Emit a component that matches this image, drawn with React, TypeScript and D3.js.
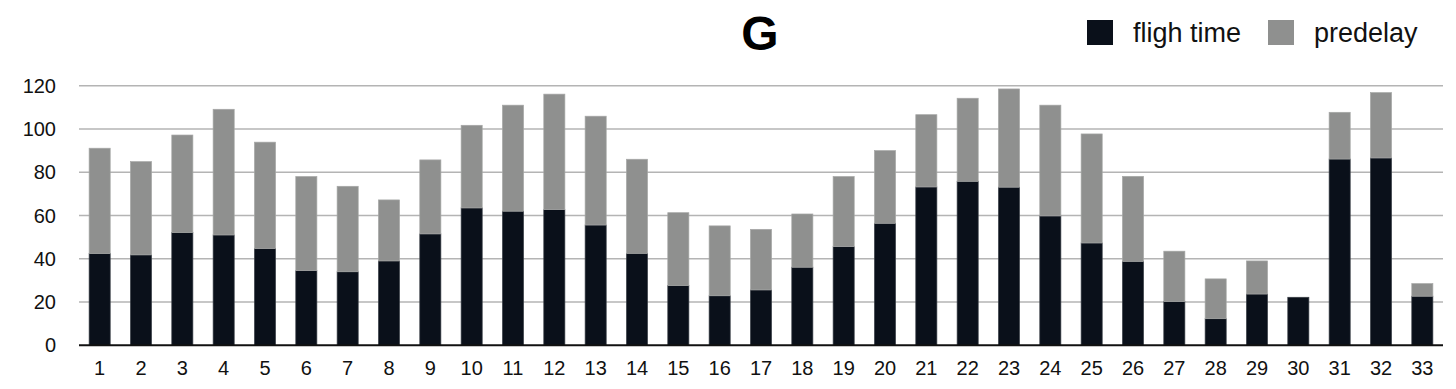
import * as d3 from "d3";

const categories = Array.from({ length: 33 }, (_, i) => String(i + 1));
const flighTime = [
  42.4, 41.8, 52.1, 51.0, 44.7, 34.5, 34.0, 39.0, 51.5, 63.5, 62.0, 62.7, 55.6,
  42.5, 27.6, 22.9, 25.6, 36.1, 45.6, 56.4, 73.2, 75.8, 73.1, 59.8, 47.3, 38.8,
  20.2, 12.3, 23.7, 22.2, 86.1, 86.6, 22.7,
];
const totals = [
  91.1, 84.9, 97.2, 109.1, 93.9, 78.0, 73.5, 67.2, 85.7, 101.7, 111.0, 116.1,
  105.9, 86.0, 61.3, 55.2, 53.6, 60.7, 78.0, 90.0, 106.6, 114.2, 118.5, 111.0,
  97.7, 78.1, 43.5, 30.7, 39.0, 22.2, 107.7, 116.8, 28.5,
];
const predelay = totals.map((t, i) => Math.max(0, +(t - flighTime[i]).toFixed(1)));
const yTicks = [0, 20, 40, 60, 80, 100, 120];
const seriesNames = ["fligh time", "predelay"];
const colors = ["#0a101a", "#8f908f"];

const W = 1456;
const H = 389;
const margin = { left: 79, right: 13, top: 85.7, bottom: 43.7 };

export default function App() {
  const x = d3
    .scaleBand()
    .domain(categories)
    .range([margin.left, W - margin.right])
    .paddingInner(0.49)
    .paddingOuter(0.245);
  const y = d3
    .scaleLinear()
    .domain([0, 120])
    .range([H - margin.bottom, margin.top]);

  const rows = categories.map((c, i) => ({
    cat: c,
    "fligh time": flighTime[i],
    predelay: predelay[i],
  }));
  const stacked = d3.stack<any>().keys(seriesNames)(rows);

  return (
    <svg
      width={W}
      height={H}
      style={{ position: "absolute", left: 0, top: 0, fontFamily: "'Liberation Sans', Arial, sans-serif" }}
    >
      {yTicks.map((t) => (
        <g key={t}>
          {t > 0 && (
            <line
              x1={margin.left}
              x2={W - margin.right}
              y1={y(t)}
              y2={y(t)}
              stroke="#b4b4b4"
              strokeWidth={1.5}
            />
          )}
          <text x={56} y={y(t)} dy="0.35em" textAnchor="end" fontSize={20} fill="#111">
            {t}
          </text>
        </g>
      ))}
      {stacked.map((s, si) => (
        <g key={s.key}>
          {s.map((d, i) =>
            d[1] - d[0] > 0 ? (
              <rect
                key={i}
                x={x(categories[i])}
                width={x.bandwidth()}
                y={y(d[1])}
                height={y(d[0]) - y(d[1])}
                fill={colors[si]}
                stroke={si === 0 ? "#3a3f47" : "#a6a7a6"}
                strokeWidth={0.7}
              />
            ) : null
          )}
        </g>
      ))}
      <line
        x1={margin.left}
        x2={W - margin.right}
        y1={y(0)}
        y2={y(0)}
        stroke="#111"
        strokeWidth={2}
      />
      {categories.map((c) => (
        <text
          key={c}
          x={(x(c) as number) + x.bandwidth() / 2}
          y={375}
          textAnchor="middle"
          fontSize={20}
          fill="#111"
        >
          {c}
        </text>
      ))}
      <text x={760} y={50} textAnchor="middle" fontSize={48} fontWeight="bold" fill="#000">
        G
      </text>
      {seriesNames.map((n, i) => {
        const lx = [1087, 1268][i];
        return (
          <g key={n}>
            <rect x={lx} y={20} width={26} height={25} fill={colors[i]} />
            <text x={lx + 46} y={42} fontSize={27} fill="#111">
              {n}
            </text>
          </g>
        );
      })}
    </svg>
  );
}
